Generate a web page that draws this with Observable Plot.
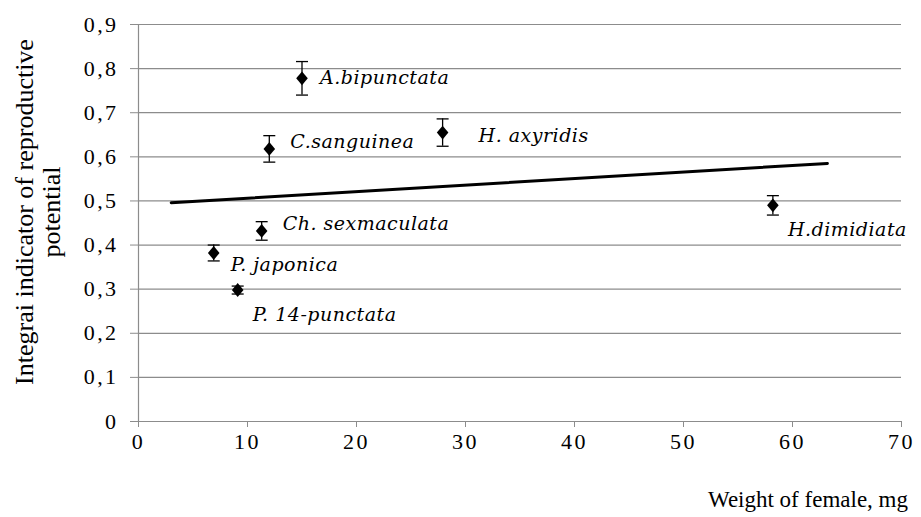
<!DOCTYPE html>
<html><head><meta charset="utf-8">
<script src="https://cdn.jsdelivr.net/npm/d3@7"></script>
<script src="https://cdn.jsdelivr.net/npm/@observablehq/plot@0.6"></script>
<style>
body{margin:0;background:#fff} svg{display:block}
#chart svg text { font-family: "Liberation Serif", "Times New Roman", serif !important; }
#chart svg text.sp { font-family: "DejaVu Serif", "Liberation Serif", serif !important; font-style: italic !important; letter-spacing: 0.5px; }
#chart svg text.tk { letter-spacing: 2.4px; }
</style>
</head><body><div id="chart"></div>
<script>
// ---- data ----
const species = ["A.bipunctata", "C.sanguinea", "H. axyridis", "Ch. sexmaculata", "P. japonica", "P. 14-punctata", "H.dimidiata"];
const weight = [15.0, 12.0, 27.9, 11.3, 6.9, 9.1, 58.2];
const potential = [0.778, 0.618, 0.655, 0.432, 0.382, 0.298, 0.49];
const stdError = [0.038, 0.03, 0.031, 0.021, 0.018, 0.009, 0.022];
const labelPlacement = ["right", "upperRight", "farRight", "upperRight", "lowerRight", "below", "below"];
const trendWeight = [3, 63.2];
const trendPotential = [0.496, 0.585];
const yTicks = [0, 0.1, 0.2, 0.3, 0.4, 0.5, 0.6, 0.7, 0.8, 0.9];
const xTicks = [0, 10, 20, 30, 40, 50, 60, 70];
const xTitle = "Weight of female, mg";
const yTitle = ["Integrai indicator of reproductive", "potential"];

// ---- build ----
const points = species.map((s, i) => ({species: s, w: weight[i], p: potential[i], e: stdError[i], place: labelPlacement[i]}));
const trend = trendWeight.map((w, i) => ({w, p: trendPotential[i]}));

const diamond = {draw(ctx, size) { const r = Math.sqrt(size / Math.PI); const h = r * 1.1, w = r * 0.92; ctx.moveTo(0, -h); ctx.lineTo(w, 0); ctx.lineTo(0, h); ctx.lineTo(-w, 0); ctx.closePath(); }};
const cap = {draw(ctx, size) { const r = Math.sqrt(size / Math.PI); ctx.moveTo(-r, 0); ctx.lineTo(r, 0); }};

const offsets = {right: [18, 0], farRight: [36, 3], upperRight: [21, -7], lowerRight: [17, 12], below: [15, 25]};
const labelMarks = Object.entries(offsets).map(([k, [dx, dy]]) =>
  Plot.text(points.filter(d => d.place === k), {x: "w", y: "p", text: "species", dx, dy, textAnchor: "start",
    fontStyle: "italic", fontSize: 19, fill: "#000"}));

const grey = "#8c8c8c";
const chart = Plot.plot({
  width: 921, height: 517,
  marginLeft: 138, marginRight: 20, marginTop: 24, marginBottom: 96,
  style: {background: "#fff", overflow: "visible"},
  x: {domain: [0, 70]},
  y: {domain: [0, 0.9]},
  marks: [
    Plot.ruleY(yTicks, {stroke: grey, strokeWidth: 1.2}),
    Plot.ruleX([0], {y1: 0, y2: 0.9, stroke: grey, strokeWidth: 1.2}),
    Plot.axisY({ticks: yTicks, tickFormat: d => d3.format(".1~f")(d).replace(".", ","), tickSize: 8, tickPadding: 12, stroke: grey, fill: "#000", label: null, fontSize: 22}),
    Plot.axisX({ticks: xTicks, tickFormat: d => String(d), tickSize: 6, tickPadding: 6, stroke: grey, fill: "#000", label: null, fontSize: 22}),
    Plot.line(trend, {x: "w", y: "p", stroke: "#000", strokeWidth: 3}),
    Plot.ruleX(points, {x: "w", y1: d => d.p - d.e, y2: d => d.p + d.e, stroke: "#000", strokeWidth: 1.3}),
    Plot.dot(points, {x: "w", y: d => d.p - d.e, symbol: cap, r: 6, stroke: "#000", strokeWidth: 1.3, fill: "none"}),
    Plot.dot(points, {x: "w", y: d => d.p + d.e, symbol: cap, r: 6, stroke: "#000", strokeWidth: 1.3, fill: "none"}),
    Plot.dot(points, {x: "w", y: "p", symbol: diamond, r: 6.3, fill: "#000", stroke: "none"}),
    ...labelMarks
  ]
});

const svg = d3.select(chart);
svg.selectAll("text").each(function() {
  d3.select(this).classed(species.includes(this.textContent) ? "sp" : "tk", true);
});
svg.append("text").text(xTitle)
  .attr("x", 908).attr("y", 507).attr("text-anchor", "end")
  .style("font-size", "23px").attr("fill", "#000");
const yt = svg.append("text").attr("transform", "translate(0,212) rotate(-90)")
  .attr("text-anchor", "middle").style("font-size", "26px").attr("fill", "#000");
yTitle.forEach((line, i) => yt.append("tspan").attr("x", 0).attr("y", 33 + i * 27).text(line));

document.getElementById("chart").appendChild(chart);
</script>
</body></html>
